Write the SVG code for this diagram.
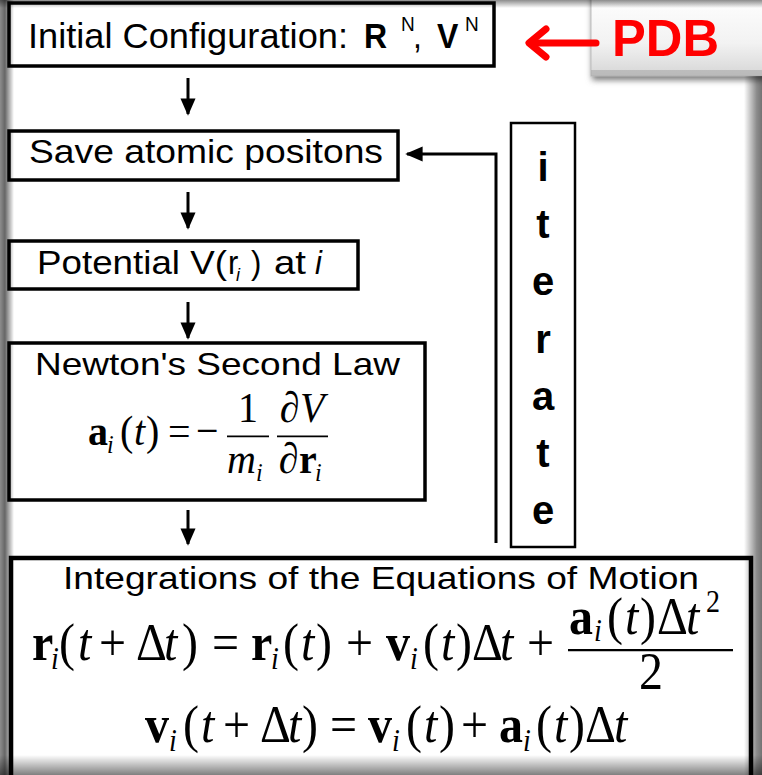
<svg xmlns="http://www.w3.org/2000/svg" width="762" height="775" viewBox="0 0 762 775">
<defs>
<style>
.sans{font-family:"Liberation Sans",Arial,sans-serif;fill:#000}
.ser{font-family:"Liberation Serif","Times New Roman",serif;fill:#000}
.box{fill:#fff;stroke:#000;stroke-width:3.5}
.b{font-weight:bold}
.it{font-style:italic}
.conn{stroke:#000;stroke-width:3;fill:none}
</style>
<marker id="ah" markerWidth="6" markerHeight="6" refX="5.2" refY="3" orient="auto" markerUnits="strokeWidth" viewBox="0 0 6 6">
<path d="M0,0.5 L5.8,3 L0,5.5 Z" fill="#000"/>
</marker>
<linearGradient id="gl" x1="0" x2="1" y1="0" y2="0">
<stop offset="0" stop-color="#000" stop-opacity="0.45"/>
<stop offset="0.35" stop-color="#000" stop-opacity="0.6"/>
<stop offset="1" stop-color="#000" stop-opacity="0"/>
</linearGradient>
<linearGradient id="gr" x1="1" x2="0" y1="0" y2="0">
<stop offset="0" stop-color="#000" stop-opacity="0.55"/>
<stop offset="0.3" stop-color="#000" stop-opacity="0.45"/>
<stop offset="1" stop-color="#000" stop-opacity="0"/>
</linearGradient>
<linearGradient id="gb" x1="0" x2="0" y1="1" y2="0">
<stop offset="0" stop-color="#000" stop-opacity="0.5"/>
<stop offset="1" stop-color="#000" stop-opacity="0"/>
</linearGradient>
<linearGradient id="gt" x1="0" x2="0" y1="0" y2="1">
<stop offset="0" stop-color="#000" stop-opacity="0.45"/>
<stop offset="1" stop-color="#000" stop-opacity="0"/>
</linearGradient>
<linearGradient id="btn" x1="0" x2="0" y1="0" y2="1">
<stop offset="0" stop-color="#ffffff"/>
<stop offset="0.6" stop-color="#f2f2f2"/>
<stop offset="1" stop-color="#d6d6d6"/>
</linearGradient>
<filter id="sh" x="-20%" y="-20%" width="140%" height="150%">
<feGaussianBlur stdDeviation="3"/>
</filter>
</defs>
<rect x="0" y="0" width="762" height="775" fill="#fff"/>

<g id="connectors">
<line class="conn" x1="188" y1="78" x2="188" y2="114" marker-end="url(#ah)"/>
<line class="conn" x1="188" y1="192" x2="188" y2="228" marker-end="url(#ah)"/>
<line class="conn" x1="188" y1="302" x2="188" y2="338" marker-end="url(#ah)"/>
<line class="conn" x1="188" y1="510" x2="188" y2="544" marker-end="url(#ah)"/>
<polyline class="conn" points="496,543 496,154 407,154" marker-end="url(#ah)"/>
</g>

<g id="pdb">
<rect x="592" y="-6" width="174" height="86" fill="#777" filter="url(#sh)"/>
<rect x="591" y="-6" width="175" height="82" fill="url(#btn)" stroke="#bdbdbd" stroke-width="1"/>
<rect x="591" y="70" width="175" height="6" fill="#a8a8a8" opacity="0.6"/>
<text class="sans b" x="612" y="56" font-size="52" style="fill:#ff0000" textLength="107" lengthAdjust="spacingAndGlyphs">PDB</text>
</g>
<g id="pdb-arrow">
<line x1="596" y1="43" x2="532" y2="43" stroke="#ff0000" stroke-width="7" stroke-linecap="round"/>
<polyline points="546,29 529,43 546,57" fill="none" stroke="#ff0000" stroke-width="7" stroke-linecap="round" stroke-linejoin="round"/>
</g>

<g id="init">
<rect class="box" x="9" y="3" width="485" height="63"/>
<g transform="matrix(1,0,0,1.08,0,-3.84)">
<text class="sans" x="28" y="48" font-size="32" textLength="320" lengthAdjust="spacingAndGlyphs">Initial Configuration:</text>
<text class="sans b" x="364" y="48" font-size="32">R</text>
<text class="sans" x="401" y="32" font-size="19">N</text>
<text class="sans" x="413" y="48" font-size="32">,</text>
<text class="sans b" x="437" y="48" font-size="32">V</text>
<text class="sans" x="465" y="32" font-size="19">N</text>
</g>
</g>

<g id="save">
<rect class="box" x="9" y="131" width="389" height="49"/>
<text class="sans" x="29" y="163" font-size="31" textLength="354" lengthAdjust="spacingAndGlyphs" transform="matrix(1,0,0,1.06,0,-9.78)">Save atomic positons</text>
</g>

<g id="potential">
<rect class="box" x="9" y="241" width="349" height="48"/>
<g transform="matrix(1,0,0,1.06,0,-16.44)">
<text class="sans" x="37" y="274" font-size="31" textLength="190" lengthAdjust="spacingAndGlyphs">Potential V(</text>
<text class="sans" x="228" y="274" font-size="31">r</text>
<text class="sans it" x="236" y="281" font-size="18">i</text>
<text class="sans" x="251" y="274" font-size="31">)</text>
<text class="sans" x="274" y="274" font-size="31" textLength="32" lengthAdjust="spacingAndGlyphs">at</text>
<text class="sans it" x="315" y="274" font-size="31">i</text>
</g>
</g>

<g id="newton">
<rect class="box" x="9" y="343" width="416" height="157"/>
<text class="sans" x="35" y="375" font-size="30" textLength="365" lengthAdjust="spacingAndGlyphs" transform="matrix(1,0,0,1.06,0,-22.5)">Newton's Second Law</text>
<g transform="matrix(1,0,0,1.08,0,-35.6)">
<text class="ser b" x="88" y="445" font-size="40">a</text>
<text class="ser it" x="107" y="452" font-size="24">i</text>
<text class="ser" x="120" y="445" font-size="40">(</text>
<text class="ser it" x="134" y="445" font-size="40">t</text>
<text class="ser" x="146" y="445" font-size="40">)</text>
<text class="ser" x="168" y="445" font-size="40">=</text>
<text class="ser" x="196" y="445" font-size="40">−</text>
<text class="ser" x="238" y="424" font-size="40">1</text>
<line x1="227" y1="437" x2="269" y2="437" stroke="#000" stroke-width="1.8"/>
<text class="ser it" x="227" y="471" font-size="40">m</text>
<text class="ser it" x="256" y="478" font-size="24">i</text>
<text class="ser" x="280" y="424" font-size="40">∂</text>
<text class="ser it" x="300" y="424" font-size="40">V</text>
<line x1="277" y1="437" x2="328" y2="437" stroke="#000" stroke-width="1.8"/>
<text class="ser" x="279" y="471" font-size="40">∂</text>
<text class="ser b" x="299" y="471" font-size="40">r</text>
<text class="ser it" x="315" y="478" font-size="24">i</text>
</g>
</g>

<g id="iterate">
<rect x="511" y="123" width="64" height="424" fill="#fff" stroke="#000" stroke-width="2.5"/>
<g class="sans b" font-size="40" text-anchor="middle">
<text x="543" y="181">i</text>
<text x="543" y="238">t</text>
<text x="543" y="295">e</text>
<text x="543" y="353">r</text>
<text x="543" y="410">a</text>
<text x="543" y="467">t</text>
<text x="543" y="524">e</text>
</g>
</g>

<g id="integration">
<rect x="11" y="558" width="740" height="240" fill="#fff" stroke="#000" stroke-width="4.5"/>
<text class="sans" x="63" y="589" font-size="30" textLength="636" lengthAdjust="spacingAndGlyphs" transform="matrix(1,0,0,1.06,0,-35.34)">Integrations of the Equations of Motion</text>
<g font-size="48" transform="matrix(1,0,0,1.1,0,-66)">
<text class="ser b" x="32" y="660">r</text>
<text class="ser it" x="51" y="668" font-size="28">i</text>
<text class="ser" x="59" y="660">(</text>
<text class="ser it" x="78" y="660">t</text>
<text class="ser" x="99" y="660">+</text>
<text class="ser" x="136" y="660">Δ</text>
<text class="ser it" x="164" y="660">t</text>
<text class="ser" x="182" y="660">)</text>
<text class="ser" x="212" y="660">=</text>
<text class="ser b" x="251" y="660">r</text>
<text class="ser it" x="271" y="668" font-size="28">i</text>
<text class="ser" x="283" y="660">(</text>
<text class="ser it" x="301" y="660">t</text>
<text class="ser" x="316" y="660">)</text>
<text class="ser" x="346" y="660">+</text>
<text class="ser b" x="386" y="660">v</text>
<text class="ser it" x="410" y="668" font-size="28">i</text>
<text class="ser" x="423" y="660">(</text>
<text class="ser it" x="441" y="660">t</text>
<text class="ser" x="456" y="660">)</text>
<text class="ser" x="472" y="660">Δ</text>
<text class="ser it" x="500" y="660">t</text>
<text class="ser" x="527" y="660">+</text>
<line x1="568" y1="651" x2="733" y2="651" stroke="#000" stroke-width="2"/>
<text class="ser b" x="569" y="636">a</text>
<text class="ser it" x="594" y="643" font-size="28">i</text>
<text class="ser" x="607" y="636">(</text>
<text class="ser it" x="625" y="636">t</text>
<text class="ser" x="640" y="636">)</text>
<text class="ser" x="657" y="636">Δ</text>
<text class="ser it" x="686" y="636">t</text>
<text class="ser" x="706" y="616" font-size="28">2</text>
<text class="ser" x="639" y="686">2</text>
</g>
<g font-size="48" transform="matrix(1,0,0,1.1,0,-74.2)">
<text class="ser b" x="145" y="742">v</text>
<text class="ser it" x="169" y="750" font-size="28">i</text>
<text class="ser" x="183" y="742">(</text>
<text class="ser it" x="201" y="742">t</text>
<text class="ser" x="223" y="742">+</text>
<text class="ser" x="260" y="742">Δ</text>
<text class="ser it" x="288" y="742">t</text>
<text class="ser" x="302" y="742">)</text>
<text class="ser" x="330" y="742">=</text>
<text class="ser b" x="368" y="742">v</text>
<text class="ser it" x="392" y="750" font-size="28">i</text>
<text class="ser" x="406" y="742">(</text>
<text class="ser it" x="424" y="742">t</text>
<text class="ser" x="439" y="742">)</text>
<text class="ser" x="461" y="742">+</text>
<text class="ser b" x="499" y="742">a</text>
<text class="ser it" x="523" y="750" font-size="28">i</text>
<text class="ser" x="536" y="742">(</text>
<text class="ser it" x="554" y="742">t</text>
<text class="ser" x="569" y="742">)</text>
<text class="ser" x="585" y="742">Δ</text>
<text class="ser it" x="614" y="742">t</text>
</g>
</g>

<g id="vignette">
<rect x="0" y="0" width="762" height="8" fill="url(#gt)"/>
<rect x="0" y="755" width="762" height="20" fill="url(#gb)"/>
<rect x="0" y="0" width="14" height="775" fill="url(#gl)"/>
<rect x="744" y="76" width="18" height="699" fill="url(#gr)"/>
</g>
</svg>
